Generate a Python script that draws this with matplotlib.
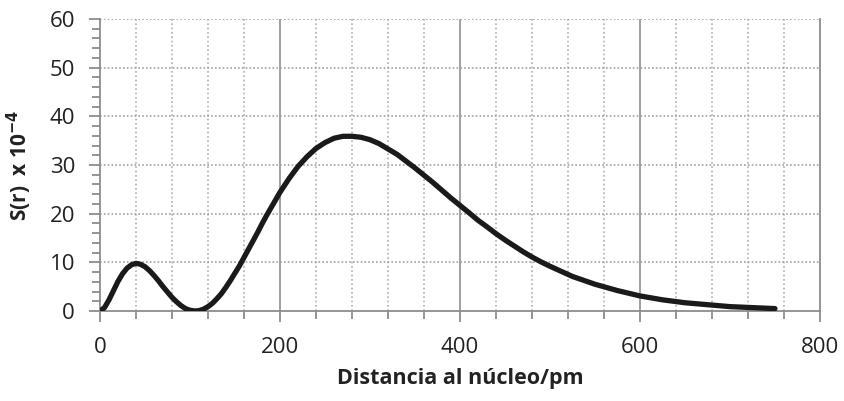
import numpy as np
import matplotlib.pyplot as plt
from matplotlib.ticker import MultipleLocator

# values (S(r) x 10^-4 vs distance in pm)
distancia = [0, 5, 10, 15, 20, 25, 30, 35, 40, 45, 50, 55, 60, 65, 70, 75, 80, 85,
             90, 95, 100, 106, 110, 115, 120, 125, 130, 135, 140, 145, 150, 155,
             160, 165, 170, 175, 180, 185, 190, 195, 200, 210, 220, 230, 240, 250,
             260, 270, 280, 290, 300, 310, 320, 330, 340, 350, 360, 370, 380, 390,
             400, 410, 420, 430, 440, 450, 460, 470, 480, 490, 500, 525, 550, 575,
             600, 625, 650, 675, 700, 725, 750]
s_r = [0.0, 0.7, 2.3, 4.2, 6.1, 7.65, 8.8, 9.5, 9.8, 9.6, 9.1, 8.3, 7.3, 6.2, 5.0, 3.9,
       2.8, 1.9, 1.1, 0.5, 0.15, 0.0, 0.08, 0.38, 0.9, 1.6, 2.55, 3.6, 4.9, 6.3, 7.8,
       9.3, 11.0, 12.7, 14.4, 16.1, 17.9, 19.6, 21.2, 22.8, 24.4, 27.2, 29.7, 31.7,
       33.4, 34.6, 35.5, 35.9, 35.9, 35.7, 35.2, 34.4, 33.3, 32.2, 30.8, 29.4, 27.9,
       26.4, 24.8, 23.2, 21.7, 20.2, 18.65, 17.3, 15.9, 14.6, 13.4, 12.2, 11.1, 10.1,
       9.2, 7.1, 5.5, 4.2, 3.1, 2.3, 1.7, 1.3, 0.9, 0.7, 0.5]

plt.rcParams['font.family'] = ['Open Sans', 'DejaVu Sans']

fig = plt.figure(figsize=(8.44, 4.01), dpi=100)
ax = fig.add_axes([0.1185, 0.2244, 0.853, 0.7282])

gris = '#8c8c8c'

ax.set_xlim(0, 800)
ax.set_ylim(0, 60)
ax.xaxis.set_major_locator(MultipleLocator(200))
ax.xaxis.set_minor_locator(MultipleLocator(40))
ax.yaxis.set_major_locator(MultipleLocator(10))
ax.yaxis.set_minor_locator(MultipleLocator(2))

# grid: dotted minor verticals, solid majors, dotted horizontals
for xv in np.arange(40, 800, 40):
    if xv % 200 == 0:
        ax.axvline(xv, color='#999999', lw=1.3, zorder=1)
    else:
        ax.axvline(xv, color='#b0b0b0', lw=1.2, ls=(0, (1, 1.6)), zorder=1)
for yv in range(10, 70, 10):
    ax.axhline(yv, color='#a0a0a0', lw=1.2, ls=(0, (1, 1.3)), zorder=1)

ax.plot(distancia, s_r, color='#1a1a1a', lw=3.8, solid_capstyle='round',
        solid_joinstyle='round', zorder=3)

ax.spines['top'].set_visible(False)
for side in ['right', 'left', 'bottom']:
    ax.spines[side].set_color(gris)
    ax.spines[side].set_linewidth(1.3)

ax.tick_params(axis='both', which='both', direction='out', color=gris, width=1.3,
               labelsize=16, labelcolor='#222222')
ax.tick_params(axis='both', which='major', length=8)
ax.tick_params(axis='both', which='minor', length=6)
ax.tick_params(axis='x', which='major', pad=11)
ax.tick_params(axis='y', which='major', pad=10)

ax.set_xlabel('Distancia al núcleo/pm', fontsize=15.5, fontweight='bold',
              color='#222222', labelpad=7)
ax.set_ylabel('S(r)  x 10$^{\\mathbf{-4}}$', fontsize=15, fontweight='bold',
              color='#222222', labelpad=11)

fig.savefig('out.png', dpi=100)
